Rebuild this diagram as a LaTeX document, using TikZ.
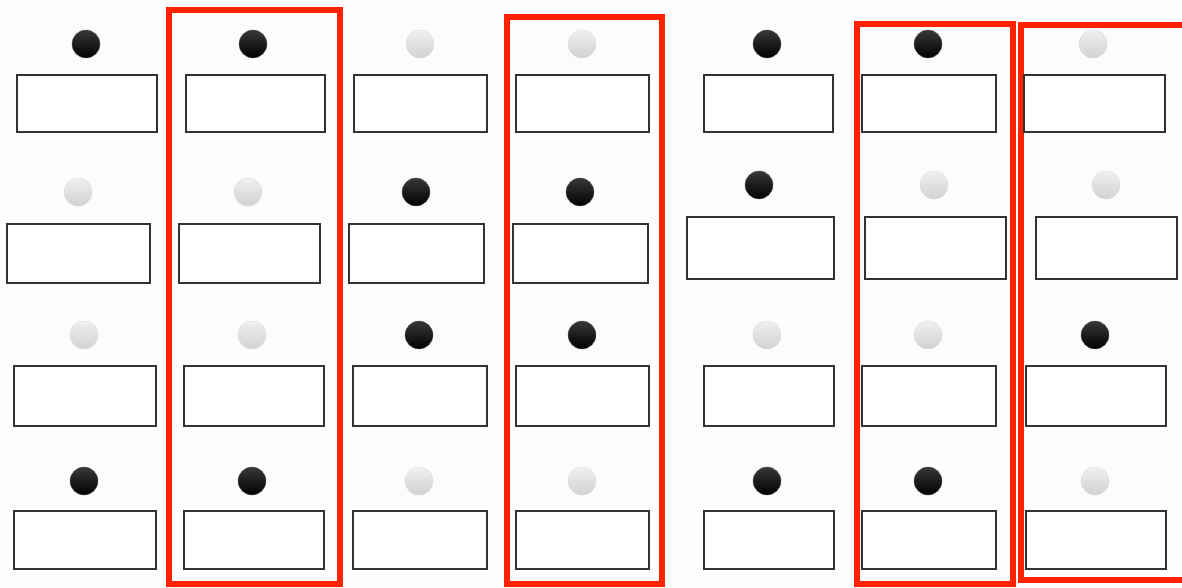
\documentclass[tikz,border=0pt]{standalone}
\begin{document}
\begin{tikzpicture}[x=1pt,y=-1pt,
  box/.style={draw=black!80, line width=1.6pt, fill=white, inner sep=0pt, rectangle},
  bk/.style={circle, inner sep=0pt, minimum size=28pt, draw=black!60, line width=0.4pt, top color=black!78, middle color=black, bottom color=black},
  gy/.style={circle, inner sep=0pt, minimum size=28pt, draw=black!14, line width=0.4pt, top color=black!6, middle color=black!16, bottom color=black!18},
  redframe/.style={draw=redc, line width=6pt}]
\definecolor{redc}{HTML}{FF2200}
\clip (0,0) rectangle (1182,588);
\fill[white!99!black] (0,0) rectangle (1182,588);
% red frames
\draw[redframe] (169,10.5) rectangle (340,583.5);
\draw[redframe] (507,17.5) rectangle (661.5,583.5);
\draw[redframe] (857,24) rectangle (1012.5,584);
\draw[redframe] (1020.5,25) rectangle (1195,580);
% row 1
\foreach \c/\a/\b/\bx/\s in {1/17/157/86/bk,2/186/325/253/bk,3/354/487/420/gy,4/516/649/582/gy,5/704/833/767/bk,6/862/996/928/bk,7/1024/1165/1093/gy}{
  \node[box, minimum width={\b-\a}, minimum height=57] (box1\c) at ({(\a+\b)/2},103.5) {};
  \node[\s] (ball1\c) at (\bx,44) {};
}
% row 2 (left part)
\foreach \c/\a/\b/\bx/\s in {1/7/150/78/gy,2/179/320/248/gy,3/349/484/416/bk,4/513/648/580/bk}{
  \node[box, minimum width={\b-\a}, minimum height=59] (box2\c) at ({(\a+\b)/2},253.5) {};
  \node[\s] (ball2\c) at (\bx,192) {};
}
% row 2 (right part)
\foreach \c/\a/\b/\bx/\s in {5/687/834/759/bk,6/865/1006/934/gy,7/1036/1177/1106/gy}{
  \node[box, minimum width={\b-\a}, minimum height=62] (box2\c) at ({(\a+\b)/2},248) {};
  \node[\s] (ball2\c) at (\bx,185) {};
}
% row 3
\foreach \c/\a/\b/\bx/\s in {1/14/156/84/gy,2/184/324/252/gy,3/353/487/419/bk,4/516/649/582/bk,5/704/834/767/gy,6/862/996/928/gy,7/1026/1166/1095/bk}{
  \node[box, minimum width={\b-\a}, minimum height=60] (box3\c) at ({(\a+\b)/2},396) {};
  \node[\s] (ball3\c) at (\bx,335) {};
}
% row 4
\foreach \c/\a/\b/\bx/\s in {1/14/156/84/bk,2/184/324/252/bk,3/353/487/419/gy,4/516/649/582/gy,5/704/834/767/bk,6/862/996/928/bk,7/1026/1166/1095/gy}{
  \node[box, minimum width={\b-\a}, minimum height=58] (box4\c) at ({(\a+\b)/2},540) {};
  \node[\s] (ball4\c) at (\bx,481) {};
}
\end{tikzpicture}
\end{document}
